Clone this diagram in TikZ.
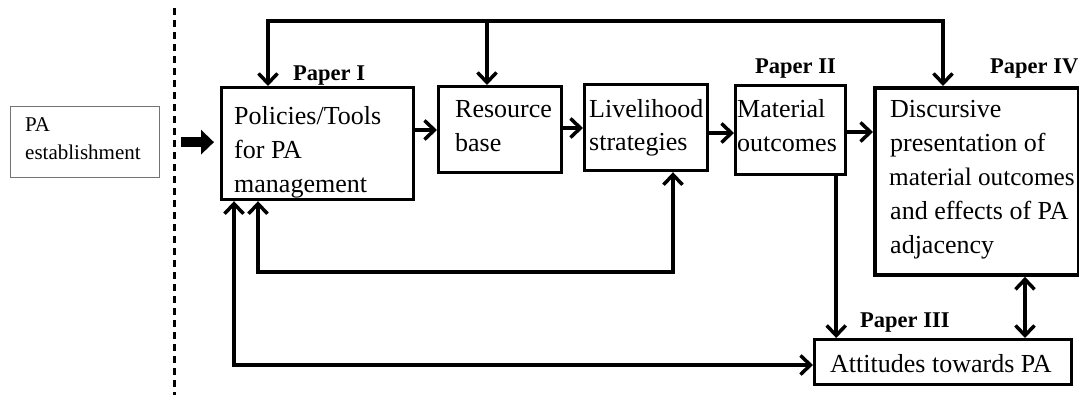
\documentclass[tikz,border=0pt]{standalone}
\usepackage{fontspec}
\setmainfont{Liberation Serif}
\usetikzlibrary{arrows.meta,calc}
\begin{document}
\begin{tikzpicture}[x=1pt,y=-1pt,
  box/.style={draw, line width=3.2pt, inner sep=0pt, anchor=north west},
  thinbox/.style={draw=black!55, line width=1.3pt, inner sep=0pt, anchor=north west},
  txt/.style={anchor=base west, inner sep=0pt, font=\fontsize{26}{30}\selectfont},
  smalltxt/.style={anchor=base west, inner sep=0pt, font=\fontsize{21}{26}\selectfont},
  paper/.style={anchor=base west, inner sep=0pt, font=\fontsize{22.5}{26}\selectfont\bfseries},
  conn/.style={line width=3.5pt},
  arr/.style={conn, -{Straight Barb[length=10pt,width=19pt]}},
  darr/.style={conn, {Straight Barb[length=10pt,width=19pt]}-{Straight Barb[length=10pt,width=19pt]}},
]
\useasboundingbox (0,0) rectangle (1079,400);

% boxes
\node[thinbox, minimum width=149pt, minimum height=71pt] (pae) at (10,106) {};
\node[box, minimum width=192pt, minimum height=112pt] (pol) at (220,86) {};
\node[box, line width=2.5pt, minimum width=123pt, minimum height=86pt] (res) at (437,85) {};
\node[box, minimum width=123pt, minimum height=86pt] (liv) at (583,83) {};
\node[box, minimum width=110pt, minimum height=89pt] (mat) at (734,84) {};
\node[box, line width=3.8pt, minimum width=204pt, minimum height=187pt] (disc) at (873,86) {};
\node[box, minimum width=257pt, minimum height=45pt] (att) at (813,338) {};

% texts
\node[smalltxt] (pae1) at (25,131) {PA};
\node[smalltxt] (pae2) at (25,159) {establishment};
\node[txt] (pol1) at (234,124) {Policies/Tools};
\node[txt] (pol2) at (234,158) {for PA};
\node[txt] (pol3) at (234,192) {management};
\node[txt] (res1) at (455,117) {Resource};
\node[txt] (res2) at (455,151) {base};
\node[txt] (liv1) at (589,117) {Livelihood};
\node[txt] (liv2) at (589,150) {strategies};
\node[txt] (mat1) at (737,117) {Material};
\node[txt] (mat2) at (737,151) {outcomes};
\node[txt] (disc1) at (890,117) {Discursive};
\node[txt] (disc2) at (890,151) {presentation of};
\node[txt, font=\fontsize{25.2}{30}\selectfont] (disc3) at (889,185) {material outcomes};
\node[txt] (disc4) at (890,219) {and effects of PA};
\node[txt] (disc5) at (890,253) {adjacency};
\node[txt] (att1) at (830,372) {Attitudes towards PA};

\node[paper] (p1) at (293,80) {Paper I};
\node[paper] (p2) at (755,73) {Paper II};
\node[paper] (p4) at (990,73) {Paper IV};
\node[paper] (p3) at (860,327) {Paper III};

% dashed divider
\coordinate (d1) at (174,8);
\coordinate (d2) at (174,395);
\draw[line width=3pt, dash pattern=on 7pt off 5pt] (d1) -- (d2);

% block arrow
\draw[line width=10pt, -{Triangle[length=13pt,width=24pt]}]
  ($(pae.east)+(21,0)$) -- ($(pol.west |- pae.east)+(-6,0)$);

% top feedback
\coordinate (tl) at (268,21);
\coordinate (tm) at (487,21);
\coordinate (tr) at (943,21);
\draw[darr] (tl |- pol.north) -- (tl) -- (tr) -- (tr |- disc.north);
\draw[arr] (tm) -- (tm |- res.north);

% chain
\draw[arr] (pol.east |- 0,130) -- (res.west |- 0,130);
\draw[arr] (res.east |- 0,128) -- (liv.west |- 0,128);
\draw[arr] (liv.east |- 0,133) -- (mat.west |- 0,133);
\draw[arr] (mat.east |- 0,132) -- (disc.west |- 0,132);

% to attitudes
\draw[arr] ($(mat.south east)+(-11,0)$) -- ($(mat.south east |- att.north)+(-11,0)$);
\draw[darr] ($(disc.south west)+(152,0)$) -- ($(disc.south west |- att.north)+(152,0)$);

% feedback loops below
\draw[darr] ($(pol.south west)+(14,0)$) |- (att.west |- 0,365);
\draw[darr] ($(pol.south west)+(38,0)$) -- ++(0,71) -| ($(liv.south west)+(90,0)$);
\end{tikzpicture}
\end{document}
